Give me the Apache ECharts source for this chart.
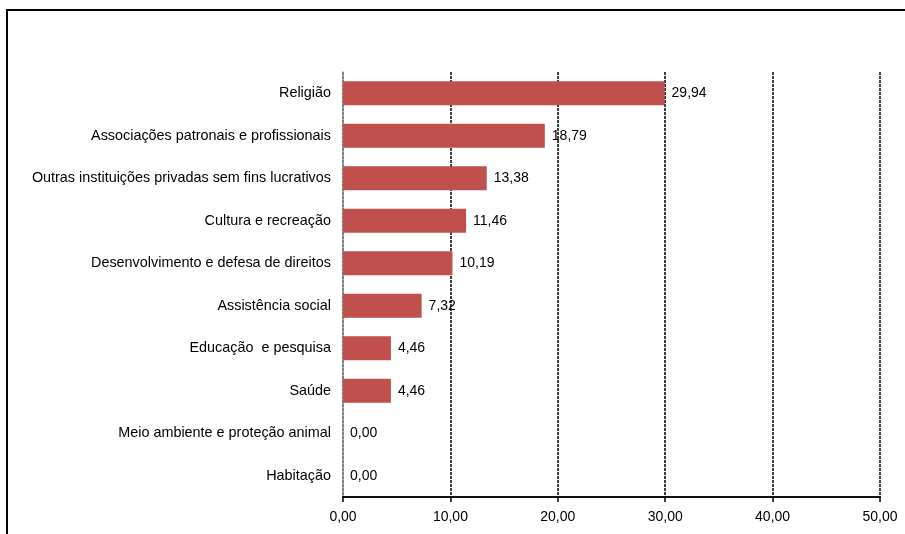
<!DOCTYPE html>
<html>
<head>
<meta charset="utf-8">
<script src="https://cdn.jsdelivr.net/npm/echarts@6/dist/echarts.min.js"></script>
<style>
  html, body { margin: 0; padding: 0; background: #fff; }
  #chart { width: 905px; height: 534px; }
</style>
</head>
<body>
<div id="chart"></div>
<script>
// Áreas de atuação, de cima para baixo
const categories = [
  'Religião',
  'Associações patronais e profissionais',
  'Outras instituições privadas sem fins lucrativos',
  'Cultura e recreação',
  'Desenvolvimento e defesa de direitos',
  'Assistência social',
  'Educação  e pesquisa',
  'Saúde',
  'Meio ambiente e proteção animal',
  'Habitação'
];
// Percentuais por área
const values = [29.94, 18.79, 13.38, 11.46, 10.19, 7.32, 4.46, 4.46, 0.00, 0.00];
// Escala do eixo horizontal
const axisMin = 0;
const axisMax = 50;
const axisStep = 10;

const fmt = v => Number(v).toFixed(2).replace('.', ',');
const font = 'Liberation Sans, Arial, sans-serif';

const chart = echarts.init(document.getElementById('chart'), null, { renderer: 'canvas' });
chart.setOption({
  animation: false,
  backgroundColor: '#fff',
  graphic: [{
    type: 'rect',
    shape: { x: 7, y: 10, width: 920, height: 540 },
    style: { fill: 'none', stroke: '#000', lineWidth: 2 },
    silent: true
  }],
  grid: { left: 343, right: 25, top: 72, bottom: 37, containLabel: false },
  xAxis: {
    type: 'value',
    min: axisMin,
    max: axisMax,
    interval: axisStep,
    axisLine: { show: true, lineStyle: { color: '#111', width: 2 } },
    axisTick: { show: true, inside: false, length: 5, lineStyle: { color: '#000', width: 1.5 } },
    axisLabel: { formatter: fmt, color: '#000', fontFamily: font, fontSize: 14, margin: 13 },
    splitLine: { show: true, lineStyle: { color: '#000', width: 1.5, type: [3, 1] } }
  },
  yAxis: {
    type: 'category',
    data: categories,
    inverse: true,
    axisLine: { show: true, lineStyle: { color: '#999', width: 1.5 } },
    axisTick: { show: false },
    axisLabel: { color: '#000', fontFamily: font, fontSize: 14.4, margin: 12 },
    splitLine: { show: false }
  },
  series: [{
    type: 'bar',
    data: values,
    barCategoryGap: '44%',
    itemStyle: { color: '#C0504D' },
    label: {
      show: true,
      position: 'right',
      distance: 7,
      formatter: p => fmt(p.value),
      color: '#000',
      fontFamily: font,
      fontSize: 14
    }
  }]
});
</script>
</body>
</html>
